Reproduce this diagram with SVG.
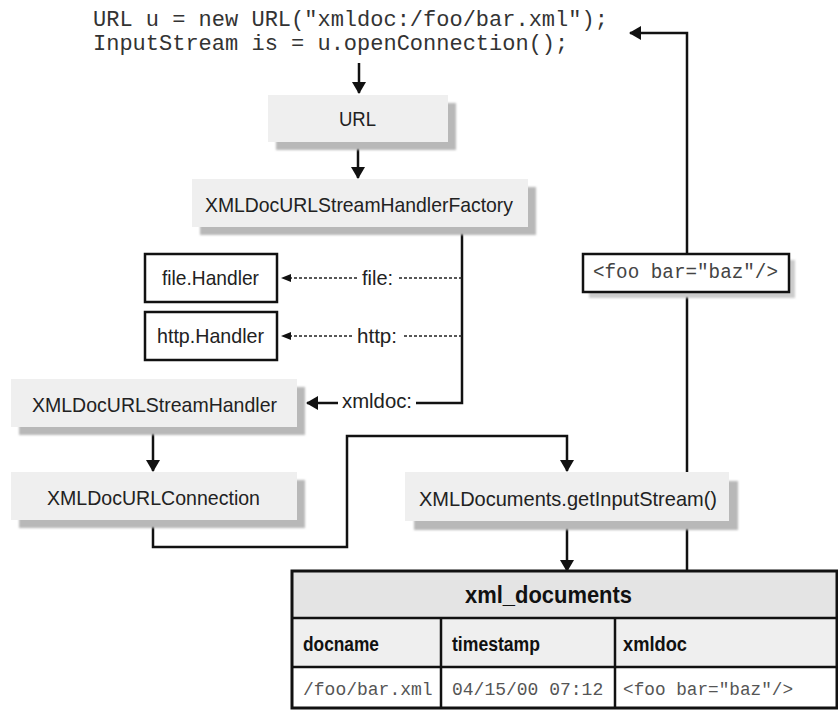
<svg xmlns="http://www.w3.org/2000/svg" width="838" height="711" viewBox="0 0 838 711">
<defs>
<style>
.code{font-family:"Liberation Mono","DejaVu Sans Mono",monospace;font-size:22px;fill:#333}
.lbl{font-family:"Liberation Sans Narrow","Liberation Sans",Arial,sans-serif;font-size:21px;fill:#222}
.hdr{font-family:"Liberation Sans Narrow","Liberation Sans",Arial,sans-serif;font-size:20px;font-weight:bold;fill:#111}
.ttl{font-family:"Liberation Sans Narrow","Liberation Sans",Arial,sans-serif;font-size:24px;font-weight:bold;fill:#111}
.data{font-family:"Liberation Mono","DejaVu Sans Mono",monospace;font-size:18px;fill:#555}
.box{fill:#efefef}
.shadow{fill:#b8b8b8;filter:url(#blur)}
.hbox{fill:#fff;stroke:#111;stroke-width:2.5}
.conn{fill:none;stroke:#111;stroke-width:2.5}
.dash{fill:none;stroke:#222;stroke-width:1.3;stroke-dasharray:3,2}
</style>
<filter id="blur" x="-10%" y="-30%" width="120%" height="160%"><feGaussianBlur stdDeviation="1.2"/></filter>
<marker id="arr" markerWidth="12" markerHeight="14" refX="11" refY="7" orient="auto" markerUnits="userSpaceOnUse" viewBox="0 0 12 14">
<path d="M0,0 L12,7 L0,14 Z" fill="#111"/>
</marker>
<marker id="arrs" markerWidth="10" markerHeight="8" refX="9" refY="4" orient="auto" markerUnits="userSpaceOnUse" viewBox="0 0 10 8">
<path d="M0,0 L10,4 L0,8 Z" fill="#111"/>
</marker>
</defs>
<rect width="838" height="711" fill="#fff"/>

<g id="code">
<text class="code" x="93" y="26" xml:space="preserve">URL u = new URL("xmldoc:/foo/bar.xml");</text>
<text class="code" x="93" y="50" xml:space="preserve">InputStream is = u.openConnection();</text>
</g>

<g id="connectors">
<path class="conn" d="M359,63 V93" marker-end="url(#arr)"/>
<path class="conn" d="M358,142 V178" marker-end="url(#arr)"/>
<path class="conn" d="M462,228 V403 H416"/>
<path class="conn" d="M338,403 H307" marker-end="url(#arr)"/>
<path class="dash" d="M462,278 H398"/>
<path class="dash" d="M357,278 H282" marker-end="url(#arrs)"/>
<path class="dash" d="M462,336 H402"/>
<path class="dash" d="M352,336 H282" marker-end="url(#arrs)"/>
<path class="conn" d="M153,428 V471" marker-end="url(#arr)"/>
<path class="conn" d="M153,521 V547 H347 V436 H567 V471" marker-end="url(#arr)"/>
<path class="conn" d="M567,522 V571" marker-end="url(#arr)"/>
<path class="conn" d="M687,571 V33 H630" marker-end="url(#arr)"/>
<text class="lbl" x="362" y="285" textLength="31" lengthAdjust="spacingAndGlyphs">file:</text>
<text class="lbl" x="357" y="343" textLength="40" lengthAdjust="spacingAndGlyphs">http:</text>
<text class="lbl" x="342" y="408" textLength="70" lengthAdjust="spacingAndGlyphs">xmldoc:</text>
</g>

<g id="url">
<rect class="shadow" x="276" y="103" width="180" height="47"/>
<rect class="box" x="268" y="95" width="180" height="47"/>
<text class="lbl" x="339" y="126" textLength="37" lengthAdjust="spacingAndGlyphs">URL</text>
</g>

<g id="factory">
<rect class="shadow" x="200" y="187" width="336" height="48"/>
<rect class="box" x="192" y="179" width="336" height="48"/>
<text class="lbl" x="205" y="212" textLength="308" lengthAdjust="spacingAndGlyphs">XMLDocURLStreamHandlerFactory</text>
</g>

<g id="fileHandler">
<rect class="hbox" x="145" y="254" width="132" height="48"/>
<text class="lbl" x="162" y="285" textLength="97" lengthAdjust="spacingAndGlyphs">file.Handler</text>
</g>

<g id="httpHandler">
<rect class="hbox" x="145" y="312" width="132" height="48"/>
<text class="lbl" x="157" y="343" textLength="107" lengthAdjust="spacingAndGlyphs">http.Handler</text>
</g>

<g id="streamHandler">
<rect class="shadow" x="19" y="387" width="286" height="48"/>
<rect class="box" x="11" y="379" width="286" height="48"/>
<text class="lbl" x="32" y="412" textLength="245" lengthAdjust="spacingAndGlyphs">XMLDocURLStreamHandler</text>
</g>

<g id="urlConnection">
<rect class="shadow" x="19" y="480" width="286" height="48"/>
<rect class="box" x="11" y="472" width="286" height="48"/>
<text class="lbl" x="47" y="505" textLength="213" lengthAdjust="spacingAndGlyphs">XMLDocURLConnection</text>
</g>

<g id="getInputStream">
<rect class="shadow" x="414" y="481" width="324" height="49"/>
<rect class="box" x="405" y="472" width="324" height="49"/>
<text class="lbl" x="419" y="506" textLength="298" lengthAdjust="spacingAndGlyphs">XMLDocuments.getInputStream()</text>
</g>

<g id="fooResult">
<rect x="589" y="260" width="206" height="38" fill="#ccc" filter="url(#blur)"/>
<rect class="hbox" x="583" y="254" width="206" height="38"/>
<text class="data" x="593" y="278" font-size="19.3" textLength="185" lengthAdjust="spacingAndGlyphs" style="font-size:19.3px;fill:#444">&lt;foo bar="baz"/&gt;</text>
</g>

<g id="xml_documents">
<rect x="292" y="571" width="545" height="47" fill="#e4e4e4"/>
<rect x="292" y="618" width="545" height="49" fill="#efefef"/>
<rect x="292" y="667" width="545" height="41" fill="#fff"/>
<rect x="292" y="571" width="545" height="137" fill="none" stroke="#111" stroke-width="3"/>
<path d="M292,618 H837 M292,667 H837 M441,618 V708 M615,618 V708" stroke="#111" stroke-width="2.5" fill="none"/>
<text class="ttl" x="465" y="603" textLength="167" lengthAdjust="spacingAndGlyphs">xml_documents</text>
<text class="hdr" x="303" y="651" textLength="76" lengthAdjust="spacingAndGlyphs">docname</text>
<text class="hdr" x="452" y="651" textLength="88" lengthAdjust="spacingAndGlyphs">timestamp</text>
<text class="hdr" x="623" y="651" textLength="64" lengthAdjust="spacingAndGlyphs">xmldoc</text>
<text class="data" x="303" y="695">/foo/bar.xml</text>
<text class="data" x="452" y="695">04/15/00 07:12</text>
<text class="data" x="623" y="695" textLength="170" lengthAdjust="spacingAndGlyphs">&lt;foo bar="baz"/&gt;</text>
</g>
</svg>
